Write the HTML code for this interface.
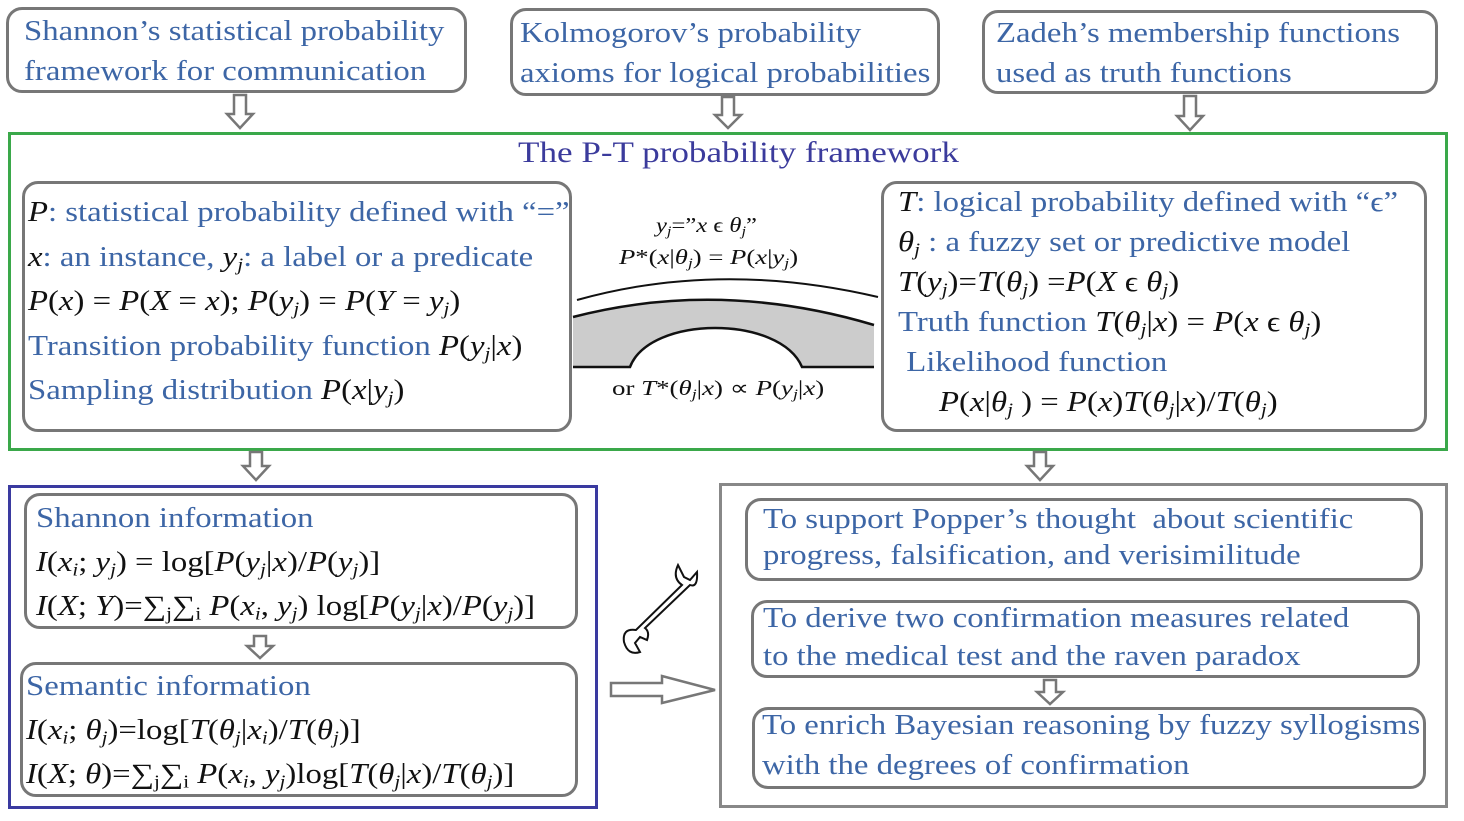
<!DOCTYPE html>
<html><head><meta charset="utf-8"><style>
body{margin:0;width:1464px;height:821px;background:#fff;position:relative;overflow:hidden;font-family:"Liberation Serif",serif;}
.b{position:absolute;border:3px solid #777;border-radius:16px;box-sizing:border-box;}
.t{position:absolute;white-space:nowrap;color:#3d66a6;font-size:28px;transform:scaleX(1.17);transform-origin:0 0;}
.k{color:#111;}
i{font-style:italic}
sub{line-height:0;vertical-align:-0.25em;font-size:18px}
.s sub{font-size:14px}
</style></head><body>
<div class="b" style="left:6px;top:7px;width:461px;height:86px"></div>
<div class="t" style="left:24px;top:12px;line-height:40px">Shannon’s statistical probability<br>framework for communication</div>
<div class="b" style="left:510px;top:8px;width:430px;height:88px"></div>
<div class="t" style="left:520px;top:14px;line-height:40px">Kolmogorov’s probability<br>axioms for logical probabilities</div>
<div class="b" style="left:982px;top:10px;width:456px;height:84px"></div>
<div class="t" style="left:996px;top:14px;line-height:40px">Zadeh’s membership functions<br>used as truth functions</div>

<div style="position:absolute;left:8px;top:132px;width:1440px;height:319px;border:3px solid #3aa84a;box-sizing:border-box"></div>
<div class="t" style="left:518px;top:136px;font-size:30px;color:#3b3b9c">The P-T probability framework</div>

<div class="b" style="left:22px;top:181px;width:550px;height:251px"></div>
<div class="t" style="left:28px;top:191px;line-height:44.5px"><span class="k"><i>P</i></span>: statistical probability defined with “=”<br><span class="k"><i>x</i></span>: an instance, <span class="k"><i>y<sub>j</sub></i></span>: a label or a predicate<br><span class="k"><i>P</i>(<i>x</i>) = <i>P</i>(<i>X</i> = <i>x</i>); <i>P</i>(<i>y<sub>j</sub></i>) = <i>P</i>(<i>Y</i> = <i>y<sub>j</sub></i>)</span><br>Transition probability function <span class="k"><i>P</i>(<i>y<sub>j</sub></i>|<i>x</i>)</span><br>Sampling distribution <span class="k"><i>P</i>(<i>x</i>|<i>y<sub>j</sub></i>)</span></div>

<div class="b" style="left:881px;top:181px;width:546px;height:251px"></div>
<div class="t" style="left:898px;top:183px;line-height:40px"><span class="k"><i>T</i></span>: logical probability defined with “ϵ”<br><span class="k"><i>θ<sub>j</sub></i></span> : a fuzzy set or predictive model<br><span class="k"><i>T</i>(<i>y<sub>j</sub></i>)=<i>T</i>(<i>θ<sub>j</sub></i>) =<i>P</i>(<i>X</i> ϵ <i>θ<sub>j</sub></i>)</span><br>Truth function <span class="k"><i>T</i>(<i>θ<sub>j</sub></i>|<i>x</i>) = <i>P</i>(<i>x</i> ϵ <i>θ<sub>j</sub></i>)</span><br>&nbsp;Likelihood function<br><span class="k">&nbsp;&nbsp;&nbsp;&nbsp;&nbsp;<i>P</i>(<i>x</i>|<i>θ<sub>j</sub></i> ) = <i>P</i>(<i>x</i>)<i>T</i>(<i>θ<sub>j</sub></i>|<i>x</i>)/<i>T</i>(<i>θ<sub>j</sub></i>)</span></div>

<div class="t k s" style="left:656px;top:213px;font-size:21px"><i>y<sub>j</sub></i>=”<i>x</i> ϵ <i>θ<sub>j</sub></i>”</div>
<div class="t k s" style="left:619px;top:245px;font-size:21px;transform:scaleX(1.27)"><i>P</i>*(<i>x</i>|<i>θ<sub>j</sub></i>) = <i>P</i>(<i>x</i>|<i>y<sub>j</sub></i>)</div>
<div class="t k s" style="left:612px;top:376px;font-size:21px;transform:scaleX(1.28)">or <i>T</i>*(<i>θ<sub>j</sub></i>|<i>x</i>) ∝ <i>P</i>(<i>y<sub>j</sub></i>|<i>x</i>)</div>
<svg style="position:absolute;left:0;top:0" width="1464" height="821">
<g fill="#fff" stroke="#777" stroke-width="2.5">
<polygon points="234,95 246,95 246,114 253,114 240,128 227,114 234,114"/>
<polygon points="722,97 734,97 734,115 741,115 728,128 715,115 722,115"/>
<polygon points="1184,96 1196,96 1196,116 1203,116 1190,130 1177,116 1184,116"/>
<polygon points="250,452 262,452 262,466 269,466 256,480 243,466 250,466"/>
<polygon points="1034,452 1046,452 1046,466 1053,466 1040,480 1027,466 1034,466"/>
<polygon points="254,636 266,636 266,646 273,646 260,658 247,646 254,646"/>
<polygon points="1044,680 1056,680 1056,692 1063,692 1050,704 1037,692 1044,692"/>
<polygon points="611,683 662,683 662,676 715,690 662,703 662,696 611,696"/>
</g>
<path d="M573,317 Q720,279 874,325 L874,367 L802,367 C780,315 650,315 630,367 L573,367 Z" fill="#ccc" stroke="none"/>
<path d="M573,317 Q720,279 874,325" fill="none" stroke="#111" stroke-width="2.5"/>
<path d="M577,300 Q720,260 878,297" fill="none" stroke="#111" stroke-width="2"/>
<path d="M573,367 L630,367 C650,315 780,315 802,367 L874,367" fill="none" stroke="#111" stroke-width="2.5"/>
<g fill="none" stroke="#111" stroke-width="2">
<path d="M678,565 Q672,578 682,585 L636,630 Q622,628 624,642 Q628,656 640,652 L635,643 L640,637 L647,640 Q650,632 645,628 L690,585 Q698,588 697,572 L690,580 L684,577 Z"/>
</g>
</svg>

<div style="position:absolute;left:8px;top:485px;width:590px;height:324px;border:3px solid #3a3aa0;box-sizing:border-box"></div>
<div class="b" style="left:24px;top:493px;width:554px;height:136px"></div>
<div class="t" style="left:36px;top:497px;line-height:44px">Shannon information<br><span class="k"><i>I</i>(<i>x<sub>i</sub></i>; <i>y<sub>j</sub></i>) = log[<i>P</i>(<i>y<sub>j</sub></i>|<i>x</i>)/<i>P</i>(<i>y<sub>j</sub></i>)]</span><br><span class="k"><i>I</i>(<i>X</i>; <i>Y</i>)=∑<sub>j</sub>∑<sub>i</sub> <i>P</i>(<i>x<sub>i</sub></i>, <i>y<sub>j</sub></i>) log[<i>P</i>(<i>y<sub>j</sub></i>|<i>x</i>)/<i>P</i>(<i>y<sub>j</sub></i>)]</span></div>
<div class="b" style="left:20px;top:662px;width:558px;height:135px"></div>
<div class="t" style="left:26px;top:665px;line-height:44px">Semantic information<br><span class="k"><i>I</i>(<i>x<sub>i</sub></i>; <i>θ<sub>j</sub></i>)=log[<i>T</i>(<i>θ<sub>j</sub></i>|<i>x<sub>i</sub></i>)/<i>T</i>(<i>θ<sub>j</sub></i>)]</span><br><span class="k"><i>I</i>(<i>X</i>; <i>θ</i>)=∑<sub>j</sub>∑<sub>i</sub> <i>P</i>(<i>x<sub>i</sub></i>, <i>y<sub>j</sub></i>)log[<i>T</i>(<i>θ<sub>j</sub></i>|<i>x</i>)/<i>T</i>(<i>θ<sub>j</sub></i>)]</span></div>

<div style="position:absolute;left:719px;top:483px;width:729px;height:325px;border:3px solid #888;box-sizing:border-box"></div>
<div class="b" style="left:745px;top:498px;width:678px;height:83px"></div>
<div class="t" style="left:763px;top:502px;line-height:36px">To support Popper’s thought&nbsp; about scientific<br>progress, falsification, and verisimilitude</div>
<div class="b" style="left:751px;top:600px;width:669px;height:78px"></div>
<div class="t" style="left:763px;top:600px;line-height:38px">To derive two confirmation measures related<br>to the medical test and the raven paradox</div>
<div class="b" style="left:752px;top:707px;width:674px;height:82px"></div>
<div class="t" style="left:762px;top:706px;line-height:40px">To enrich Bayesian reasoning by fuzzy syllogisms<br>with the degrees of confirmation</div>
</body></html>
